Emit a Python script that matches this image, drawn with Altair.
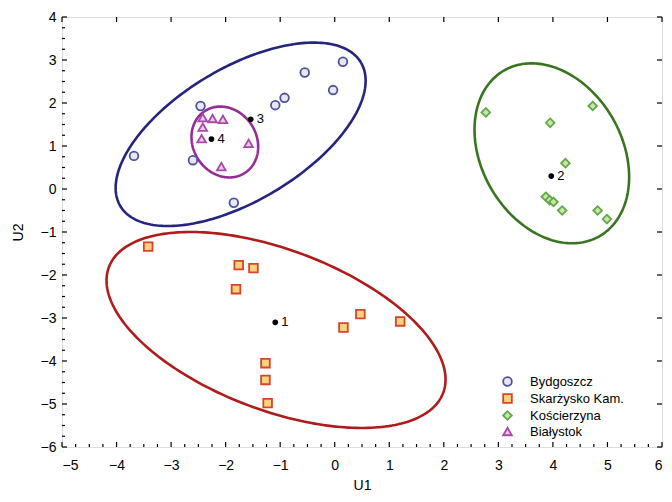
import numpy as np
import pandas as pd
import altair as alt

# ---------------- data ----------------
GROUPS = ["Bydgoszcz", "Skarżysko Kam.", "Kościerzyna", "Białystok"]

byd_x = [-3.68, -2.46, -2.60, -1.85, -1.09, -0.92, -0.55, -0.03, 0.15]
byd_y = [0.77, 1.93, 0.67, -0.32, 1.95, 2.12, 2.71, 2.30, 2.96]

ska_x = [-3.42, -1.76, -1.49, -1.81, 0.47, 0.16, 1.20, -1.27, -1.27, -1.23]
ska_y = [-1.34, -1.77, -1.84, -2.33, -2.91, -3.22, -3.08, -4.05, -4.44, -4.98]

kos_x = [2.77, 4.73, 3.95, 4.23, 3.87, 3.94, 4.01, 4.17, 4.82, 4.99]
kos_y = [1.78, 1.93, 1.54, 0.60, -0.18, -0.26, -0.30, -0.50, -0.50, -0.70]

bia_x = [-2.42, -2.24, -2.05, -2.42, -2.44, -1.58, -2.08]
bia_y = [1.66, 1.64, 1.62, 1.44, 1.17, 1.06, 0.52]

cent_label = ["1", "2", "3", "4"]
cent_x = [-1.09, 3.97, -1.54, -2.26]
cent_y = [-3.10, 0.30, 1.62, 1.16]

# ellipses: centre (data units), semi-axes (reference screen px), tilt (deg, counter-clockwise)
ell_name = ["Bydgoszcz", "Skarżysko Kam.", "Kościerzyna", "Białystok"]
ell_cx = [-1.725, -1.076, 3.980, -2.015]
ell_cy = [1.272, -3.279, 0.830, 1.093]
ell_a = [141.3, 180.4, 95.9, 37.0]
ell_b = [66.6, 80.4, 70.8, 32.0]
ell_t = [30.4, -20.3, 120.9, 125.0]
ell_col = ["#25257f", "#b01c1c", "#3b7420", "#962c96"]
REF_PXX, REF_PXY = 55.18, 43.0   # reference px per data unit (for the ellipse geometry)

X_TICKS = list(range(-5, 7))
Y_TICKS = list(range(-6, 5))

# ---------------- layout ----------------
W, H = 600, 430
FONT = "Liberation Sans"

pts = pd.concat([
    pd.DataFrame({"x": byd_x, "y": byd_y, "g": GROUPS[0]}),
    pd.DataFrame({"x": ska_x, "y": ska_y, "g": GROUPS[1]}),
    pd.DataFrame({"x": kos_x, "y": kos_y, "g": GROUPS[2]}),
    pd.DataFrame({"x": bia_x, "y": bia_y, "g": GROUPS[3]}),
], ignore_index=True)

cent = pd.DataFrame({"x": cent_x, "y": cent_y, "lab": cent_label})

xscale = alt.Scale(domain=[-5, 6], nice=False, zero=False)
yscale = alt.Scale(domain=[-6, 4], nice=False, zero=False)
xaxis = alt.Axis(values=X_TICKS, ticks=False, domain=False, grid=False,
                 labelFontSize=14, labelPadding=11, title="U1",
                 titleFontSize=14, titleFontWeight="normal", titlePadding=6,
                 labelFont=FONT, titleFont=FONT, labelColor="black", titleColor="black")
yaxis = alt.Axis(values=Y_TICKS, ticks=False, domain=False, grid=False,
                 labelFontSize=14, labelPadding=6, title="U2",
                 titleFontSize=14, titleFontWeight="normal", titlePadding=15,
                 labelFont=FONT, titleFont=FONT, labelColor="black", titleColor="black")


def X(f="x"):
    return alt.X(f"{f}:Q", scale=xscale, axis=xaxis)


def Y(f="y"):
    return alt.Y(f"{f}:Q", scale=yscale, axis=yaxis)


layers = []

# ellipses
for name, cx, cy, a, b, t, col in zip(ell_name, ell_cx, ell_cy, ell_a, ell_b, ell_t, ell_col):
    tt = np.linspace(0, 2 * np.pi, 241)
    th = np.radians(t)
    ux = a * np.cos(tt) * np.cos(th) - b * np.sin(tt) * np.sin(th)
    uy = a * np.cos(tt) * np.sin(th) + b * np.sin(tt) * np.cos(th)
    df = pd.DataFrame({"x": cx + ux / REF_PXX, "y": cy + uy / REF_PXY, "i": np.arange(len(tt))})
    layers.append(
        alt.Chart(df).mark_line(color=col, strokeWidth=2.6, clip=True)
        .encode(x=X(), y=Y(), order="i:Q")
    )

# points
fill_scale = alt.Scale(domain=GROUPS, range=["#e6e8f6", "#fcd27e", "#c4e8a8", "#f2c6f0"])
stroke_scale = alt.Scale(domain=GROUPS, range=["#4f519c", "#d6452a", "#68a64a", "#a64aa6"])
shape_scale = alt.Scale(domain=GROUPS, range=["circle", "square", "diamond", "triangle-up"])
leg = alt.Legend(title=None, orient="none", legendX=439, legendY=358,
                 labelFontSize=13, labelFont=FONT, labelColor="black",
                 symbolSize=75, symbolStrokeWidth=1.8, rowPadding=0, labelOffset=16)

layers.append(
    alt.Chart(pts).mark_point(size=75, strokeWidth=1.8, fillOpacity=1, opacity=1)
    .encode(
        x=X(), y=Y(),
        fill=alt.Fill("g:N", scale=fill_scale, legend=leg, sort=GROUPS),
        stroke=alt.Stroke("g:N", scale=stroke_scale, legend=leg, sort=GROUPS),
        shape=alt.Shape("g:N", scale=shape_scale, legend=leg, sort=GROUPS),
    )
)

# centroids
layers.append(
    alt.Chart(cent).mark_circle(size=32, color="black", opacity=1).encode(x=X(), y=Y())
)
layers.append(
    alt.Chart(cent).mark_text(align="left", baseline="middle", dx=6, fontSize=13,
                              font=FONT, color="black")
    .encode(x=X(), y=Y(), text="lab:N")
)

# inward ticks
minor_x = [v for v in np.arange(-5, 6.001, 0.25) if abs(v - round(v)) > 1e-9]
minor_y = [v for v in np.arange(-6, 4.001, 0.25) if abs(v - round(v)) > 1e-9]
tx = pd.DataFrame({"x": X_TICKS})
ty = pd.DataFrame({"y": Y_TICKS})
mx = pd.DataFrame({"x": minor_x})
my = pd.DataFrame({"y": minor_y})

tick_style = dict(color="black", strokeWidth=1.2)
layers += [
    alt.Chart(tx).mark_rule(**tick_style).encode(x=X(), y=alt.value(H), y2=alt.value(H - 5)),
    alt.Chart(mx).mark_rule(**tick_style).encode(x=X(), y=alt.value(H), y2=alt.value(H - 3)),
    alt.Chart(tx).mark_rule(**tick_style).encode(x=X(), y=alt.value(0), y2=alt.value(5)),
    alt.Chart(ty).mark_rule(**tick_style).encode(y=Y(), x=alt.value(0), x2=alt.value(5)),
    alt.Chart(my).mark_rule(**tick_style).encode(y=Y(), x=alt.value(0), x2=alt.value(3)),
    alt.Chart(ty).mark_rule(**tick_style).encode(y=Y(), x=alt.value(W), x2=alt.value(W - 5)),
]

chart = (
    alt.layer(*layers)
    .properties(width=W, height=H,
                autosize=alt.AutoSizeParams(type="none"),
                padding={"left": 54, "top": 9, "right": 2, "bottom": 47})
    .configure_view(stroke="black", strokeWidth=2)
    .configure(font=FONT, background="white")
)

chart.save("out.html", embed_options={"renderer": "svg", "actions": False})
